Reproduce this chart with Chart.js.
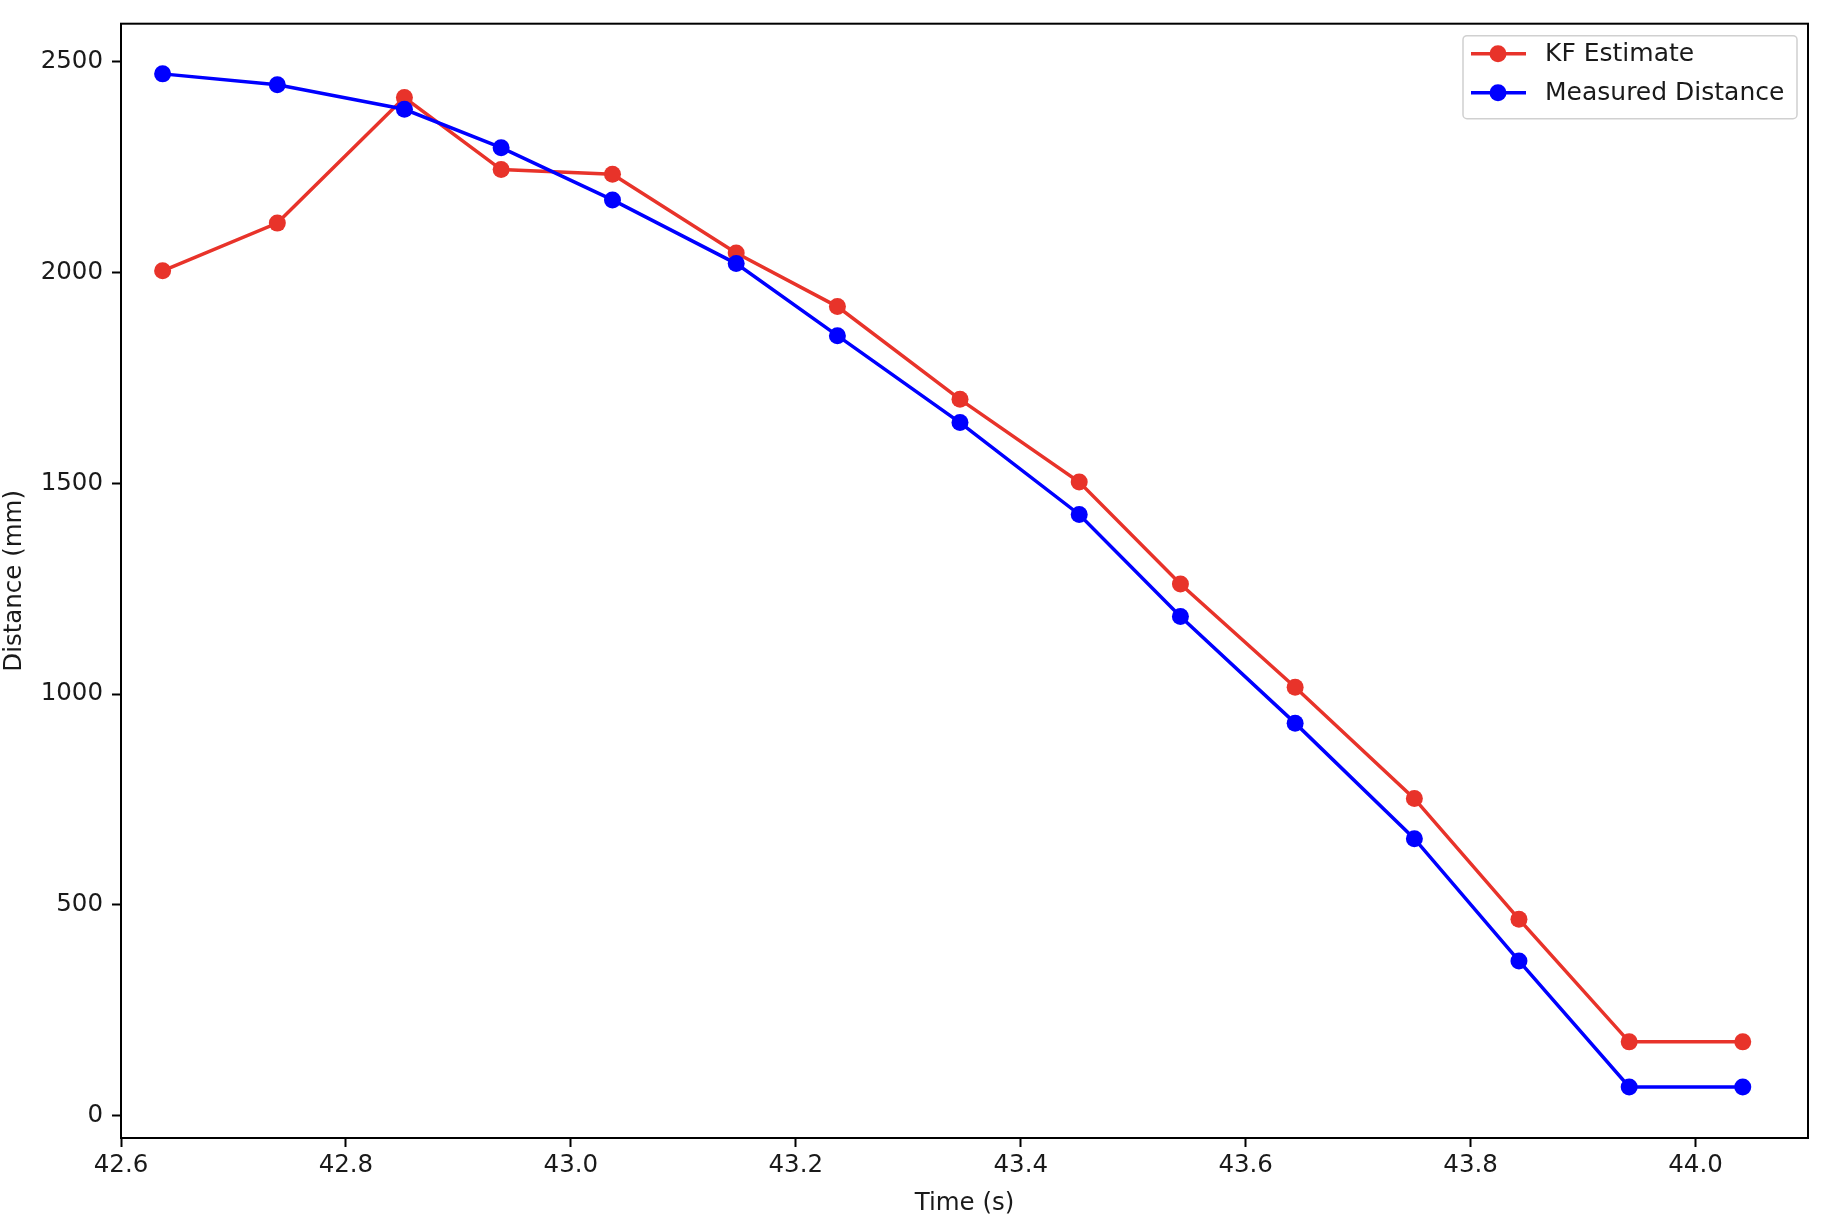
<!DOCTYPE html>
<html>
<head>
<meta charset="utf-8">
<title>KF Estimate vs Measured Distance</title>
<script src="https://cdn.jsdelivr.net/npm/chart.js@4.4.1/dist/chart.umd.min.js"></script>
<style>
  html, body { margin: 0; padding: 0; background: #fff; }
  canvas { display: block; }
</style>
</head>
<body>
<canvas id="kfChart" width="1826" height="1224"></canvas>
<script>
// Data
const times = [42.637, 42.739, 42.852, 42.938, 43.037, 43.147, 43.237, 43.346,
               43.452, 43.542, 43.644, 43.750, 43.843, 43.941, 44.042];
const kfEstimate = [2004, 2117, 2415, 2244, 2233, 2046, 1919, 1699,
                    1503, 1261, 1016, 752, 466, 175, 175];
const measured = [2471, 2445, 2387, 2296, 2172, 2021, 1850, 1644,
                  1426, 1184, 931, 657, 367, 68, 68];

// Axis ticks and limits
const xTicks = [42.6, 42.8, 43.0, 43.2, 43.4, 43.6, 43.8, 44.0];
const yTicks = [0, 500, 1000, 1500, 2000, 2500];
const xRange = [42.6, 44.1];
const yRange = [-53, 2590];

const seriesNames = ['KF Estimate', 'Measured Distance'];
const seriesColors = ['#e8332a', '#0000ff'];

const FONT = 'DejaVu Sans';
const FONT_SIZE = 24.5;
const TEXT = '#1a1a1a';

function toPoints(values) {
    return values.map((v, i) => ({ x: times[i], y: v }));
}

// Draws the full box around the plot area (matplotlib style spines)
const frame = {
    id: 'frame',
    afterDatasetsDraw(chart) {
        const { ctx, chartArea: a } = chart;
        ctx.save();
        ctx.strokeStyle = '#000';
        ctx.lineWidth = 2;
        ctx.strokeRect(a.left, a.top, a.right - a.left, a.bottom - a.top);
        ctx.restore();
    }
};

// Legend with a line + marker sample, upper right
const lineLegend = {
    id: 'lineLegend',
    afterDraw(chart) {
        const { ctx, chartArea: a } = chart;
        const boxW = 334, boxH = 83;
        const bx = a.right - 11 - boxW, by = a.top + 12;
        ctx.save();
        ctx.beginPath();
        ctx.roundRect(bx, by, boxW, boxH, 4);
        ctx.fillStyle = 'rgba(255,255,255,0.8)';
        ctx.fill();
        ctx.strokeStyle = '#d0d0d0';
        ctx.lineWidth = 1.5;
        ctx.stroke();

        ctx.font = '25px "' + FONT + '"';
        ctx.textBaseline = 'middle';
        ctx.textAlign = 'left';
        seriesNames.forEach((name, i) => {
            const ry = by + 18 + i * 39;
            ctx.strokeStyle = seriesColors[i];
            ctx.lineWidth = 3.5;
            ctx.beginPath();
            ctx.moveTo(bx + 8, ry);
            ctx.lineTo(bx + 63, ry);
            ctx.stroke();
            ctx.fillStyle = seriesColors[i];
            ctx.beginPath();
            ctx.arc(bx + 35, ry, 8.5, 0, Math.PI * 2);
            ctx.fill();
            ctx.fillStyle = TEXT;
            ctx.fillText(name, bx + 82, ry + 1);
        });
        ctx.restore();
    }
};

const ctx = document.getElementById('kfChart').getContext('2d');
new Chart(ctx, {
    type: 'line',
    data: {
        datasets: [{
            label: seriesNames[0],
            data: toPoints(kfEstimate),
            borderColor: seriesColors[0],
            backgroundColor: seriesColors[0],
            borderWidth: 3.5,
            pointRadius: 8.5,
            pointBorderWidth: 0,
            pointBackgroundColor: seriesColors[0],
            tension: 0,
            order: 1
        }, {
            label: seriesNames[1],
            data: toPoints(measured),
            borderColor: seriesColors[1],
            backgroundColor: seriesColors[1],
            borderWidth: 3.5,
            pointRadius: 8.5,
            pointBorderWidth: 0,
            pointBackgroundColor: seriesColors[1],
            tension: 0,
            order: 0
        }]
    },
    options: {
        responsive: false,
        animation: false,
        layout: { padding: { top: 20, right: 18, left: 0, bottom: 0 } },
        plugins: {
            legend: { display: false },
            tooltip: { enabled: false },
            title: { display: false }
        },
        scales: {
            x: {
                type: 'linear',
                min: xRange[0],
                max: xRange[1],
                afterBuildTicks: scale => { scale.ticks = xTicks.map(v => ({ value: v })); },
                afterFit: scale => { scale.height = 86; },
                ticks: {
                    color: TEXT,
                    font: { family: FONT, size: FONT_SIZE },
                    padding: 4,
                    maxRotation: 0,
                    autoSkip: false,
                    callback: v => Number(v).toFixed(1)
                },
                grid: {
                    drawOnChartArea: false,
                    drawTicks: true,
                    tickLength: 9,
                    tickColor: '#000',
                    tickWidth: 2
                },
                border: { display: true, color: '#000', width: 2 },
                title: {
                    display: true,
                    text: 'Time (s)',
                    color: TEXT,
                    font: { family: FONT, size: FONT_SIZE },
                    padding: { top: 0, bottom: 6 }
                }
            },
            y: {
                type: 'linear',
                min: yRange[0],
                max: yRange[1],
                afterBuildTicks: scale => { scale.ticks = yTicks.map(v => ({ value: v })); },
                afterFit: scale => { scale.width = 121; },
                ticks: {
                    color: TEXT,
                    font: { family: FONT, size: FONT_SIZE },
                    padding: 9,
                    autoSkip: false,
                    callback: v => String(v)
                },
                grid: {
                    drawOnChartArea: false,
                    drawTicks: true,
                    tickLength: 9,
                    tickColor: '#000',
                    tickWidth: 2
                },
                border: { display: true, color: '#000', width: 2 },
                title: {
                    display: true,
                    text: 'Distance (mm)',
                    color: TEXT,
                    font: { family: FONT, size: FONT_SIZE },
                    padding: { top: 0, bottom: 0 }
                }
            }
        }
    },
    plugins: [frame, lineLegend]
});
</script>
</body>
</html>
